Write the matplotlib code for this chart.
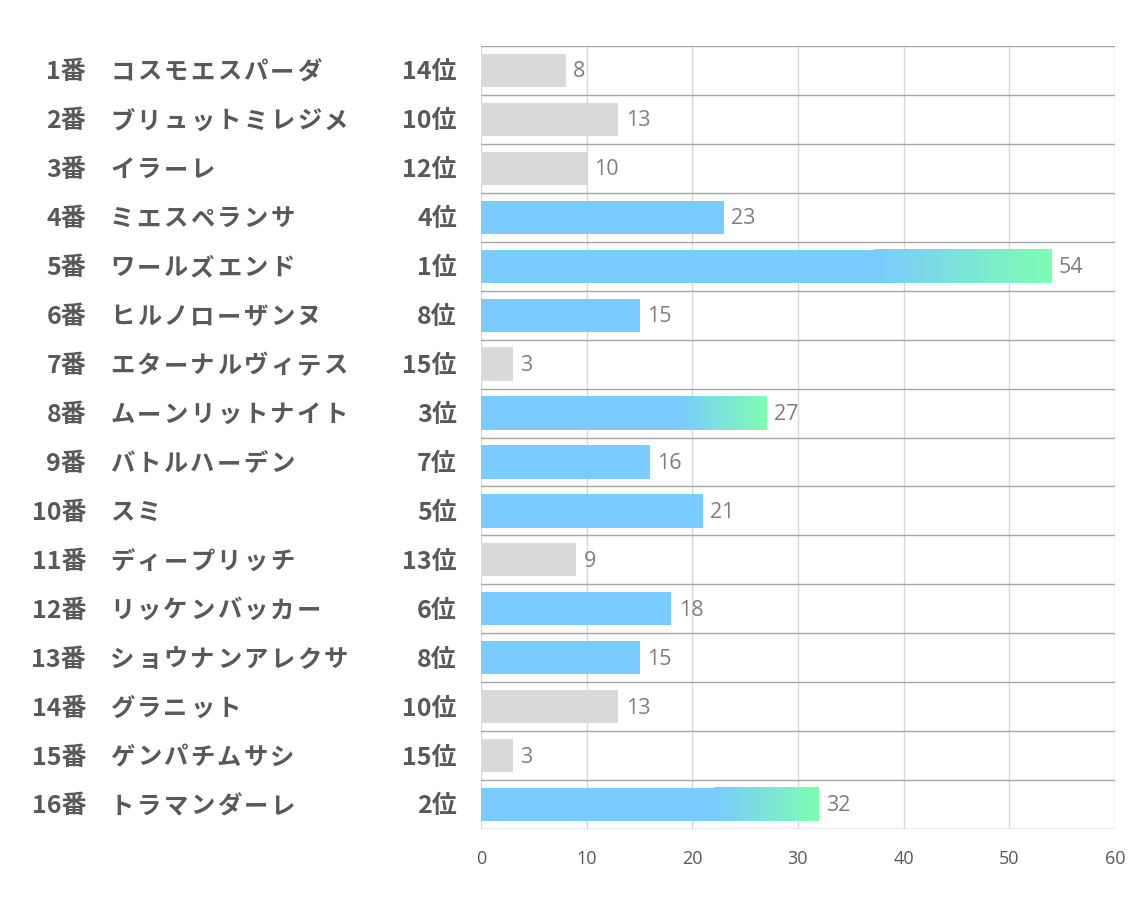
import numpy as np
import matplotlib
matplotlib.use("Agg")
import matplotlib.pyplot as plt
from matplotlib.colors import LinearSegmentedColormap
from matplotlib.transforms import blended_transform_factory

plt.rcParams['font.family'] = ['Noto Sans CJK JP', 'DejaVu Sans']

nums = list(range(1, 17))
names = ["コスモエスパーダ", "ブリュットミレジメ", "イラーレ", "ミエスペランサ",
         "ワールズエンド", "ヒルノローザンヌ", "エターナルヴィテス", "ムーンリットナイト",
         "バトルハーデン", "スミ", "ディープリッチ", "リッケンバッカー",
         "ショウナンアレクサ", "グラニット", "ゲンパチムサシ", "トラマンダーレ"]
values = [8, 13, 10, 23, 54, 15, 3, 27, 16, 21, 9, 18, 15, 13, 3, 32]
ranks = [14, 10, 12, 4, 1, 8, 15, 3, 7, 5, 13, 6, 8, 10, 15, 2]
xticks = [0, 10, 20, 30, 40, 50, 60]

gray = "#D9D9D9"
blue = "#7ACBFF"
green = "#7FFDB2"
text_col = "#595959"

W, H = 1134, 907
fig = plt.figure(figsize=(W / 100, H / 100), dpi=100)
ax = fig.add_axes([481 / W, 1 - 829 / H, (1115 - 481) / W, (829 - 46) / H])

ypos = np.arange(len(values))
bar_h = 0.68
colors = [blue if r <= 9 else gray for r in ranks]
ax.barh(ypos, values, height=bar_h, color=colors, zorder=2)

# gradient on the top 3
cmap = LinearSegmentedColormap.from_list("bg", [blue, green])
grad = np.linspace(0, 1, 256).reshape(1, -1)
for y, v, r in zip(ypos, values, ranks):
    if r <= 3:
        ax.imshow(grad, cmap=cmap, aspect="auto", zorder=3,
                  extent=[v * 0.69, v, y + bar_h / 2, y - bar_h / 2],
                  interpolation="bilinear")

for y, v in zip(ypos, values):
    ax.text(v + 0.7, y + 0.03, str(v), va="center", ha="left", fontsize=15.5,
            color="#7F7F7F", family=["Open Sans", "DejaVu Sans"], zorder=4)

ax.set_xlim(0, 60)
ax.set_ylim(len(values) - 0.5, -0.5)
ax.set_xticks(xticks)
ax.set_yticks([])
for x in xticks:
    ax.axvline(x, color="#D9D9D9", lw=1, zorder=1)
for b in np.arange(-0.5, len(values), 1.0):
    ax.axhline(b, color="#A6A6A6", lw=1, zorder=1)
for s in ax.spines.values():
    s.set_visible(False)
ax.tick_params(axis="x", length=0, pad=15, labelsize=13, labelcolor=text_col)
for lab in ax.get_xticklabels():
    lab.set_family(["Open Sans", "DejaVu Sans"])

tr = blended_transform_factory(fig.transFigure, ax.transData)
fs = 18
char_step = 26.7  # px per katakana, names are spaced out
dy = 0.04
for y, n, name, r in zip(ypos, nums, names, ranks):
    fig.text(86 / W, y + dy, f"{n}番", transform=tr, ha="right", va="center",
             fontsize=fs, fontweight="bold", color=text_col)
    for i, ch in enumerate(name):
        fig.text((110 + i * char_step) / W, y + dy, ch, transform=tr, ha="left",
                 va="center", fontsize=fs - 0.5, fontweight="bold", color=text_col)
    fig.text(457 / W, y + dy, f"{r}位", transform=tr, ha="right", va="center",
             fontsize=fs, fontweight="bold", color=text_col)

fig.savefig("out.png", dpi=100, facecolor="white")
